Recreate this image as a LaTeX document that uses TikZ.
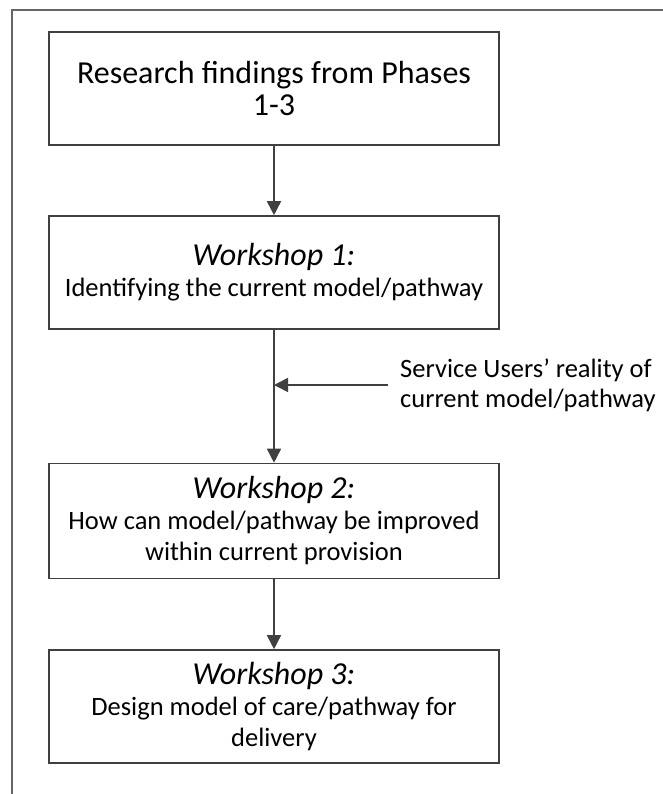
\documentclass[tikz,border=0pt]{standalone}
\usepackage{fontspec}
\setmainfont{Carlito}
\usetikzlibrary{arrows.meta}
\usetikzlibrary{positioning}
\tikzset{stagebox/.style = {draw = black!75, line width = 1.6pt, fill = white, minimum width = 450pt, minimum height = 113pt, align = center, inner sep = 0pt, font = \fontsize{26.5}{31}\selectfont}}
\tikzset{flow/.style = {-{Triangle[width = 14pt, length = 14pt]}, draw = black!75, line width = 1.6pt}}
\newcommand{\wshead}[1]{{\fontsize{32}{31}\selectfont\itshape #1}}

\begin{document}
\begin{tikzpicture}[x = 1pt, y = -1pt]
      \useasboundingbox (0, 0) rectangle (663, 794);
      \draw [black!60, line width = 2pt] (12, 794) -- (12, 10) -- (663, 10);
      \node [stagebox, font = \fontsize{32}{32}\selectfont] (findings) at (274, 88.5) {Research findings from Phases\\1-3};
      \node [stagebox] (ws1) at (274, 272.5) {\wshead{Workshop 1:}\\Identifying the current model/pathway};
      \node [stagebox, minimum height = 115pt] (ws2) at (274, 521) {\wshead{Workshop 2:}\\How can model/pathway be improved\\within current provision};
      \node [stagebox] (ws3) at (274, 706.5) {\wshead{Workshop 3:}\\Design model of care/pathway for\\delivery};
      \node [anchor = west, align = left, inner xsep = 12pt, inner ysep = 0pt, font = \fontsize{26.5}{30}\selectfont] (users) at (388, 385) {Service Users’ reality of\\current model/pathway};
      \draw [flow] (findings) -- (ws1);
      \draw [flow] (ws1) -- (ws2);
      \draw [flow] (ws2) -- (ws3);
      \draw [flow] (users.west) -- (users.west -| ws1.south);
    \end{tikzpicture}
\end{document}
